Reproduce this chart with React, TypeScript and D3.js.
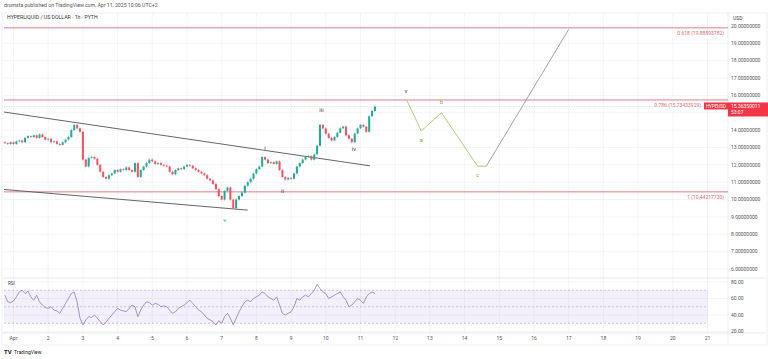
import * as d3 from "d3";

// 2h closes from Mar 31 18:00 UTC
const closes = [
  13.25, 13.2, 13.3, 13.2, 13.35, 13.4, 13.3, 13.55, 13.65, 13.6,
  13.7, 13.55, 13.75, 13.6, 13.45, 13.5, 13.3, 13.35, 13.2, 13.15,
  13.3, 13.45, 13.6, 14.0, 14.3, 14.1, 13.9, 12.3, 11.9, 12.4,
  12.45, 12.35, 12.0, 11.6, 11.3, 11.2, 11.4, 11.5, 11.7, 11.6,
  11.75, 11.7, 11.85, 11.7, 11.6, 12.1, 11.3, 11.7, 11.9, 12.1,
  12.3, 12.2, 12.05, 12.1, 12.0, 11.95, 11.9, 11.6, 11.45, 11.7,
  11.8, 11.75, 11.9, 12.0, 11.95, 11.8, 11.7, 11.6, 11.5, 11.4,
  11.2, 11.1, 10.9, 10.6, 10.2, 10.0, 10.5, 10.7, 10.0, 9.5,
  10.0, 10.2, 10.4, 10.8, 11.0, 11.2, 11.5, 11.75, 11.9, 12.45,
  12.3, 12.1, 12.15, 12.05, 12.2, 11.7, 11.3, 11.15, 11.25, 11.2,
  11.5, 11.9, 12.1, 12.3, 12.45, 12.5, 12.3, 12.6, 13.1, 14.3,
  14.1, 13.8, 13.55, 13.4, 13.6, 13.85, 14.1, 14.2, 13.7, 13.5,
  13.3, 13.8, 14.1, 14.3, 14.2, 13.9, 14.8, 15.1, 15.36,
];

const rsi = [
  64, 56, 55, 57, 62, 68, 70, 66, 69, 62, 58, 64, 56, 52, 49, 48, 50, 46, 45, 42,
  48, 54, 60, 66, 68, 56, 36, 28, 34, 38, 37, 40, 36, 32, 28, 31, 36, 40, 44, 48,
  46, 45, 44, 48, 52, 50, 38, 46, 52, 56, 55, 52, 54, 53, 50, 51, 50, 46, 42, 44,
  48, 50, 52, 55, 58, 54, 50, 46, 44, 40, 36, 34, 32, 28, 33, 30, 38, 42, 36, 28,
  36, 44, 50, 56, 58, 56, 60, 62, 64, 68, 66, 62, 60, 58, 62, 52, 42, 40, 42, 44,
  50, 60, 58, 62, 64, 62, 66, 70, 77, 72, 68, 66, 60, 62, 64, 66, 68, 62, 58, 50,
  52, 56, 60, 58, 54, 62, 66, 68, 66,
];

const lastPriceText = "15.36350011";
const countdown = "53:07";

const priceTicks = [6, 7, 8, 9, 10, 11, 12, 13, 14, 15, 16, 17, 18, 19, 20];
const rsiTicks = [80, 60, 40, 20];

const fibLevels = [0.618, 0.786, 1];
const fibPrices = [19.88893782, 15.73433929, 10.4421773];

// channel lines: [start, end]
const upperTimes = ["2025-03-31T17:24Z", "2025-04-11T06:36Z"];
const upperPrices = [15.04, 11.94];
const lowerTimes = ["2025-03-31T17:24Z", "2025-04-07T18:00Z"];
const lowerPrices = [10.58, 9.39];

// projected correction v-a-b-c, then target leg
const abcTimes = ["2025-04-12T08:00Z", "2025-04-12T18:00Z", "2025-04-13T08:00Z", "2025-04-14T09:00Z", "2025-04-14T15:00Z"];
const abcPrices = [15.72, 13.95, 15.0, 11.92, 11.92];
const targetTimes = ["2025-04-14T15:00Z", "2025-04-17T00:00Z"];
const targetPrices = [11.92, 19.8];

const waveText = ["i", "ii", "iii", "iv", "v", "v", "a", "b", "c"];
const waveTimes = [
  "2025-04-08T06:00Z", "2025-04-08T18:00Z", "2025-04-09T21:00Z", "2025-04-10T19:30Z",
  "2025-04-07T02:00Z", "2025-04-12T07:30Z", "2025-04-12T18:00Z", "2025-04-13T08:00Z", "2025-04-14T09:00Z",
];
const wavePrices = [12.86, 10.38, 15.05, 12.8, 8.7, 16.14, 13.3, 15.5, 11.3];
const waveColors = ["#444", "#444", "#444", "#444", "#26a69a", "#444", "#7cb342", "#7cb342", "#7cb342"];

const dayLabels = ["Apr", "2", "3", "4", "5", "6", "7", "8", "9", "10", "11", "12", "13", "14", "15", "16", "17", "18", "19", "20", "21"];

const W = 768;
const H = 359;
const PL = 4;
const PR = 728;
const TOP = 13;
const PANE_BOT = 278;
const RSI_BOT = 333;
const FONT = "Roboto, 'Liberation Sans', sans-serif";

export default function App() {
  const start = Date.UTC(2025, 2, 31, 18);
  const times = closes.map((_, i) => new Date(start + i * 2 * 3600e3));

  const x = d3.scaleUtc()
    .domain([new Date(Date.UTC(2025, 3, 1)), new Date(Date.UTC(2025, 3, 21))])
    .range([13.5, 707.5]);
  const y = d3.scaleLinear().domain([6, 20]).range([269, 25.9]);
  const ry = d3.scaleLinear().domain([20, 80]).range([331.5, 282]);

  const days = d3.utcDay.range(new Date(Date.UTC(2025, 3, 1)), new Date(Date.UTC(2025, 3, 22)));
  const bw = Math.max(1, (x(times[1]) - x(times[0])) * 0.7);

  const priceLine = d3.line<[string, number]>()
    .x((d) => x(new Date(d[0])))
    .y((d) => y(d[1]));
  const rsiLine = d3.line<number>()
    .x((_, i) => x(times[i]))
    .y((d) => ry(d));

  const zip = (t: string[], p: number[]) => t.map((s, i) => [s, p[i]] as [string, number]);
  const last = closes[closes.length - 1];
  const lastY = y(last);

  return (
    <svg width={W} height={H} style={{ position: "absolute", left: 0, top: 0, background: "#fff" }} fontFamily={FONT}>
      <text x={4} y={7} fontSize={5.2} fill="#555">drumsta published on TradingView.com, Apr 11, 2025 10:06 UTC+2</text>
      <rect x={2} y={TOP} width={W - 3} height={345 - TOP} fill="none" stroke="#e6e8ee" strokeWidth={0.7} />

      {/* grid */}
      <g stroke="#f0f2f6" strokeWidth={0.8}>
        {days.map((d, i) => (
          <line key={i} x1={x(d)} x2={x(d)} y1={TOP} y2={RSI_BOT} />
        ))}
        {priceTicks.map((p) => (
          <line key={p} x1={PL} x2={PR} y1={y(p)} y2={y(p)} />
        ))}
        {rsiTicks.map((r) => (
          <line key={r} x1={PL} x2={PR} y1={ry(r)} y2={ry(r)} />
        ))}
      </g>
      <line x1={2} x2={W - 1} y1={PANE_BOT} y2={PANE_BOT} stroke="#e0e3eb" strokeWidth={0.8} />
      <line x1={2} x2={W - 1} y1={RSI_BOT} y2={RSI_BOT} stroke="#e0e3eb" strokeWidth={0.8} />
      <line x1={PR} x2={PR} y1={TOP} y2={345} stroke="#e0e3eb" strokeWidth={0.6} />

      <text x={7} y={19} fontSize={5.2} fill="#333">HYPERLIQUID / US DOLLAR · 1h · PYTH</text>

      {/* fib levels */}
      {fibPrices.map((p, i) => (
        <g key={i}>
          <line x1={PL} x2={PR} y1={y(p)} y2={y(p)} stroke="#e07c84" strokeWidth={1} />
          <text x={i === 1 ? 701 : 724} y={y(p) + 7} fontSize={5} fill="#df6a74" textAnchor="end">
            {`${fibLevels[i]} (${p.toFixed(8)})`}
          </text>
        </g>
      ))}

      {/* current price line */}
      <line x1={PL} x2={PR} y1={lastY} y2={lastY} stroke="#bbb" strokeWidth={0.5} strokeDasharray="1 1.5" />

      {/* channel */}
      <path d={priceLine(zip(upperTimes, upperPrices)) ?? ""} stroke="#555" strokeWidth={0.9} fill="none" />
      <path d={priceLine(zip(lowerTimes, lowerPrices)) ?? ""} stroke="#555" strokeWidth={0.9} fill="none" />

      {/* candles */}
      {closes.map((c, i) => {
        const o = i === 0 ? closes[0] + 0.05 : closes[i - 1];
        const up = c >= o;
        const col = up ? "#22ab94" : "#f7525f";
        const top = y(Math.max(o, c));
        const h = Math.max(0.8, Math.abs(y(o) - y(c)));
        const cx = x(times[i]);
        return (
          <g key={i}>
            <line x1={cx} x2={cx} y1={top - 1} y2={top + h + 1} stroke={col} strokeWidth={0.5} />
            <rect x={cx - bw / 2} y={top} width={bw} height={h} fill={col} />
          </g>
        );
      })}

      {/* projection */}
      <path d={priceLine(zip(abcTimes, abcPrices)) ?? ""} stroke="#9ccc65" strokeWidth={0.9} fill="none" />
      <path d={priceLine(zip(targetTimes, targetPrices)) ?? ""} stroke="#8a8a8a" strokeWidth={0.8} fill="none" />

      {waveText.map((t, i) => (
        <text
          key={i}
          x={x(new Date(waveTimes[i]))}
          y={y(wavePrices[i])}
          fontSize={6}
          textAnchor="middle"
          fill={waveColors[i]}
        >
          {t}
        </text>
      ))}

      {/* price axis */}
      <text x={733} y={20} fontSize={5} fill="#444">USD</text>
      {priceTicks
        .filter((p) => Math.abs(y(p) - (lastY + 3)) > 9)
        .map((p) => (
          <text key={p} x={731} y={y(p) + 1.8} fontSize={5} fill="#555">
            {p.toFixed(8)}
          </text>
        ))}

      {/* last price labels */}
      <rect x={704} y={lastY - 4} width={24} height={7} fill="#f23645" />
      <text x={716} y={lastY + 1.5} fontSize={4.6} fill="#fff" textAnchor="middle">HYPEUSD</text>
      <rect x={PR} y={lastY - 4} width={40} height={14} fill="#f23645" />
      <text x={731} y={lastY + 1.5} fontSize={5} fill="#fff">{lastPriceText}</text>
      <text x={731} y={lastY + 8} fontSize={5} fill="#fff">{countdown}</text>

      {/* RSI pane */}
      <rect x={PL} y={ry(70)} width={PR - PL - 20} height={ry(30) - ry(70)} fill="#7e57c2" fillOpacity={0.09} />
      {[70, 50, 30].map((r) => (
        <line key={r} x1={PL} x2={PR - 20} y1={ry(r)} y2={ry(r)} stroke="#a9a1c9" strokeWidth={0.6} strokeDasharray="2 2" />
      ))}
      <path d={rsiLine(rsi) ?? ""} stroke="#8c78c8" strokeWidth={0.8} fill="none" />
      <text x={8} y={285} fontSize={4.6} fill="#444">RSI</text>
      {rsiTicks.map((r) => (
        <text key={r} x={731} y={ry(r) + 1.8} fontSize={5} fill="#555">
          {r.toFixed(2)}
        </text>
      ))}

      {/* time axis */}
      {days.map((d, i) => (
        <text key={i} x={x(d)} y={339.5} fontSize={5} fill="#555" textAnchor="middle">
          {dayLabels[i]}
        </text>
      ))}

      {/* logo */}
      <text x={4} y={354} fontSize={6} fontWeight="bold" fill="#131722">TV</text>
      <text x={14} y={354} fontSize={5} fill="#131722">TradingView</text>
    </svg>
  );
}
